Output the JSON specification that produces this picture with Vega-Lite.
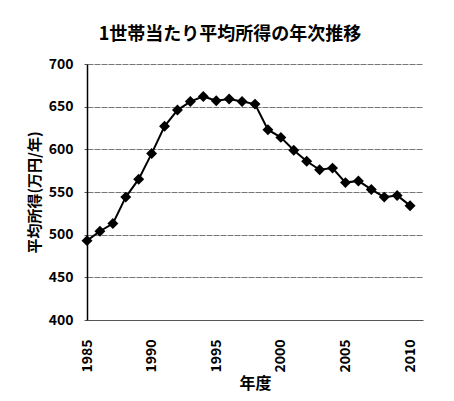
{
  "$schema": "https://vega.github.io/schema/vega-lite/v6.json",
  "autosize": "none",
  "width": 336,
  "height": 256,
  "padding": {"left": 87, "top": 64, "right": 31, "bottom": 81},
  "background": "white",
  "title": {
    "text": "1世帯当たり平均所得の年次推移",
    "font": "Noto Sans CJK JP",
    "fontSize": 18,
    "fontWeight": "bold",
    "color": "black",
    "anchor": "middle",
    "frame": "group",
    "dx": -25,
    "offset": 13
  },
  "config": {
    "view": {"stroke": null},
    "axis": {
      "labelFont": "Noto Sans CJK JP",
      "titleFont": "Noto Sans CJK JP",
      "labelColor": "black",
      "titleColor": "black",
      "labelFontWeight": "bold",
      "titleFontWeight": "bold"
    }
  },
  "data": {
    "values": [
      {"year": 1985, "income": 493},
      {"year": 1986, "income": 504},
      {"year": 1987, "income": 513},
      {"year": 1988, "income": 544},
      {"year": 1989, "income": 565},
      {"year": 1990, "income": 595},
      {"year": 1991, "income": 627},
      {"year": 1992, "income": 646},
      {"year": 1993, "income": 656},
      {"year": 1994, "income": 662},
      {"year": 1995, "income": 657},
      {"year": 1996, "income": 659},
      {"year": 1997, "income": 656},
      {"year": 1998, "income": 653},
      {"year": 1999, "income": 623},
      {"year": 2000, "income": 614},
      {"year": 2001, "income": 599},
      {"year": 2002, "income": 586},
      {"year": 2003, "income": 576},
      {"year": 2004, "income": 578},
      {"year": 2005, "income": 561},
      {"year": 2006, "income": 563},
      {"year": 2007, "income": 553},
      {"year": 2008, "income": 544},
      {"year": 2009, "income": 546},
      {"year": 2010, "income": 534}
    ]
  },
  "encoding": {
    "x": {
      "field": "year",
      "type": "quantitative",
      "scale": {"domain": [1985, 2011], "nice": false, "zero": false},
      "axis": {
        "title": "年度",
        "titleFontSize": 16,
        "titlePadding": 3,
        "values": [1985, 1990, 1995, 2000, 2005, 2010],
        "format": "d",
        "labelAngle": -90,
        "labelFontSize": 14,
        "labelPadding": 19,
        "ticks": false,
        "grid": false,
        "domainColor": "#555",
        "domainWidth": 1
      }
    },
    "y": {
      "field": "income",
      "type": "quantitative",
      "scale": {"domain": [400, 700], "nice": false, "zero": false},
      "axis": {
        "title": "平均所得(万円/年)",
        "titleFontSize": 15,
        "titlePadding": 6,
        "values": [400, 450, 500, 550, 600, 650, 700],
        "labelFontSize": 14,
        "labelPadding": 11,
        "tickSize": 3,
        "tickColor": "#555",
        "domainColor": "black",
        "domainWidth": 1.5,
        "grid": true,
        "gridColor": "#777",
        "gridWidth": 1,
        "gridDash": [6, 1]
      }
    }
  },
  "layer": [
    {"mark": {"type": "line", "color": "black", "strokeWidth": 2}},
    {"mark": {"type": "point", "shape": "diamond", "filled": true, "color": "black", "opacity": 1, "size": 120}}
  ]
}
